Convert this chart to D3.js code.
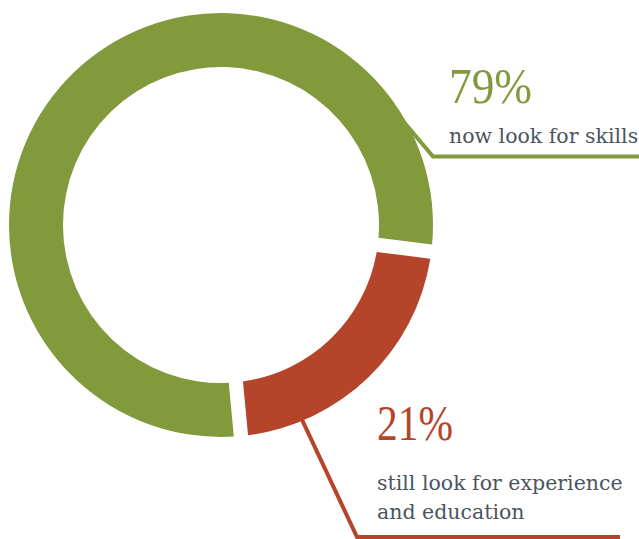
<!DOCTYPE html>
<html>
<head>
<meta charset="utf-8">
<script src="https://cdn.jsdelivr.net/npm/d3@7/dist/d3.min.js"></script>
<style>
  html, body { margin: 0; padding: 0; background: #ffffff; }
  svg { display: block; }
</style>
</head>
<body>
<svg id="chart" width="639" height="539"></svg>
<script>
// Share of employers by what they look for when hiring
const categories = ["now look for skills", "still look for experience and education"];
const values = [79, 21];
const valueLabels = ["79%", "21%"];
const labelLines = [["now look for skills"], ["still look for experience", "and education"]];
const colors = ["#829a3c", "#b5452a"];

const width = 639, height = 539;
const cx = 221, cy = 225;
const outerR = 212, innerR = 158;
const deg = Math.PI / 180;

const svg = d3.select("#chart");

const pie = d3.pie()
  .sort(null)
  .value(d => d)
  .startAngle(174.6 * deg)
  .endAngle(174.6 * deg + 2 * Math.PI)
  .padAngle(0.054);

const arc = d3.arc()
  .innerRadius(innerR)
  .outerRadius(outerR);

const arcs = pie(values);

// leader lines: leave the ring at a given angle, bend at an elbow, then run flat to the right
const leaders = [
  { angle: 63.3 * deg, elbow: [433, 156.5], endX: 639 },
  { angle: 157.4 * deg, elbow: [357, 537], endX: 620 }
];

const leaderG = svg.append("g");
leaders.forEach((l, i) => {
  // start a little inside the ring so the ring covers the line's end
  const r0 = (innerR + outerR) / 2;
  const pOuter = [cx + outerR * Math.sin(l.angle), cy - outerR * Math.cos(l.angle)];
  // direction from the outer-edge point to the elbow, extended back into the ring
  const dx = l.elbow[0] - pOuter[0], dy = l.elbow[1] - pOuter[1];
  const len = Math.hypot(dx, dy);
  const back = outerR - r0 + 4;
  const pStart = [pOuter[0] - dx / len * back, pOuter[1] - dy / len * back];
  leaderG.append("path")
    .attr("d", d3.line()([pStart, l.elbow, [l.endX, l.elbow[1]]]))
    .attr("fill", "none")
    .attr("stroke", colors[i])
    .attr("stroke-width", 4)
    .attr("stroke-linejoin", "miter");
});

svg.append("g")
  .attr("transform", `translate(${cx},${cy})`)
  .selectAll("path")
  .data(arcs)
  .join("path")
  .attr("d", arc)
  .attr("fill", (d, i) => colors[i]);

// labels
const labelPos = [
  { x: 449, numY: 103, textY: 143 },
  { x: 377, numY: 439.5, textY: 490 }
];
const textColor = "#4a5560";
const lineGap = 28.5;

labelPos.forEach((p, i) => {
  svg.append("text")
    .attr("x", p.x)
    .attr("y", p.numY)
    .attr("fill", colors[i])
    .attr("font-family", "'Liberation Serif', serif")
    .attr("font-size", 51)
    .attr("textLength", i === 0 ? 83 : 76)
    .attr("lengthAdjust", "spacingAndGlyphs")
    .text(valueLabels[i]);
  labelLines[i].forEach((line, j) => {
    svg.append("text")
      .attr("x", p.x)
      .attr("y", p.textY + j * lineGap)
      .attr("fill", textColor)
      .attr("font-family", "'DejaVu Serif', serif")
      .attr("font-size", 20.5)
      .text(line);
  });
});
</script>
</body>
</html>
